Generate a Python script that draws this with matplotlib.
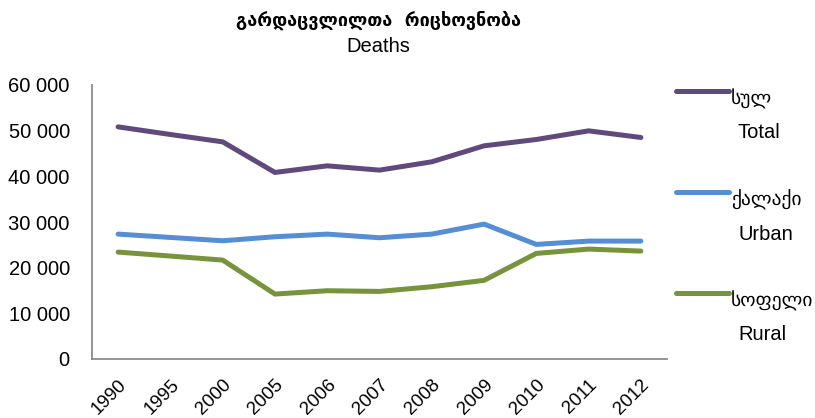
import matplotlib
matplotlib.use("Agg")
import matplotlib.pyplot as plt
from matplotlib.lines import Line2D
from matplotlib.ticker import FuncFormatter
from matplotlib.transforms import ScaledTranslation

years = ["1990", "1995", "2000", "2005", "2006", "2007", "2008", "2009", "2010", "2011", "2012"]
total = [50830, 49160, 47550, 40850, 42300, 41360, 43180, 46680, 48070, 49960, 48510]
urban = [27350, 26620, 25890, 26770, 27350, 26550, 27350, 29540, 25090, 25820, 25820]
rural = [23410, 22540, 21660, 14220, 14950, 14800, 15830, 17220, 23120, 24070, 23630]
labels_ka = ["სულ", "ქალაქი", "სოფელი"]
labels_en = ["Total", "Urban", "Rural"]
title_ka = "გარდაცვლილთა  რიცხოვნობა"
title_en = "Deaths"
colors = ["#604A7B", "#558ED5", "#77933C"]

LAT = ["Liberation Sans", "DejaVu Sans"]
GEO = ["DejaVu Sans"]

W, H = 815, 418
fig = plt.figure(figsize=(W / 100, H / 100), dpi=100)
ax = fig.add_axes([92 / W, 1 - 359 / H, (667 - 92) / W, (359 - 85) / H])

x = list(range(len(years)))
for s, c in zip([total, urban, rural], colors):
    ax.plot(x, s, color=c, lw=3.6, solid_capstyle="round", solid_joinstyle="round")

ax.set_xlim(-0.5, len(years) - 0.5)
ax.set_ylim(0, 60000)
ax.set_yticks(range(0, 60001, 10000))
ax.yaxis.set_major_formatter(FuncFormatter(lambda v, p: f"{int(v):,}".replace(",", " ")))
ax.set_xticks(x)
ax.set_xticklabels(years, rotation=45, ha="right", va="top", rotation_mode="anchor")
off = ScaledTranslation(1 / 100, 0, fig.dpi_scale_trans)
for t in ax.get_xticklabels():
    t.set_family(LAT)
    t.set_fontsize(13.5)
    t.set_transform(t.get_transform() + off)
for t in ax.get_yticklabels():
    t.set_family(LAT)
    t.set_fontsize(14.5)
ax.tick_params(axis="both", length=0, colors="black")
ax.tick_params(axis="y", pad=16)
ax.tick_params(axis="x", pad=12.5)
for sp in ["top", "right"]:
    ax.spines[sp].set_visible(False)
for sp in ["left", "bottom"]:
    ax.spines[sp].set_color("#8c8c8c")
    ax.spines[sp].set_linewidth(1.3)

fig.text(378 / W, 1 - 20 / H, title_ka, ha="center", va="center", fontsize=13,
         fontweight="bold", family=GEO)
fig.text(378 / W, 1 - 47 / H, title_en, ha="center", va="center", fontsize=14.5, family=LAT)

leg_line_y = [91, 192, 293]
for c, ka, en, ly in zip(colors, labels_ka, labels_en, leg_line_y):
    fig.add_artist(Line2D([676 / W, 729 / W], [1 - ly / H, 1 - ly / H], color=c, lw=3.6,
                          solid_capstyle="round"))
    fig.text(731 / W, 1 - (ly + 8) / H, ka, ha="left", va="center", fontsize=14, family=GEO)
    fig.text(738 / W, 1 - (ly + 42) / H, en, ha="left", va="center", fontsize=14.5, family=LAT)

fig.savefig("out.png", dpi=100)
